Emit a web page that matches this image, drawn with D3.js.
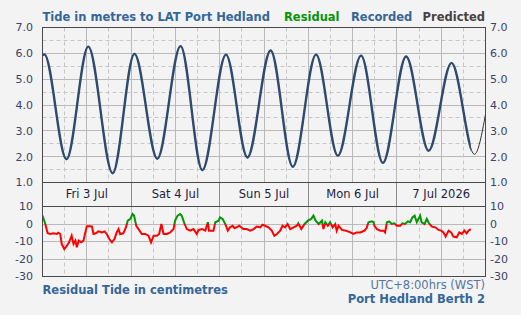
<!DOCTYPE html>
<html>
<head>
<meta charset="utf-8">
<script src="https://cdn.jsdelivr.net/npm/d3@7"></script>
<style>
html,body{margin:0;padding:0;background:#f3f3f3;}
svg{display:block;}
text{font-family:"DejaVu Sans",Verdana,sans-serif;}
</style>
</head>
<body>
<svg id="c" width="521" height="315"></svg>
<script>
// ---- data ----
// tide turning points (hours from Fri 3 Jul 2026 00:00, metres to LAT)
const tideHours   = [0, 0.5, 6.5, 12.4, 19.0, 24.9, 31.1, 37.4, 43.3, 49.7, 55.5, 61.8, 67.8, 74.1, 80.0, 86.3, 92.2, 98.5, 104.6, 110.8, 117.0, 120];
const tideHeights = [5.92, 5.96, 1.90, 6.26, 1.36, 5.98, 1.92, 6.28, 1.48, 5.95, 1.97, 6.11, 1.61, 5.95, 2.04, 5.91, 1.76, 5.88, 2.23, 5.63, 2.09, 3.64];
const recordedEndHour = 116;

// residual tide (cm)
const resHours = [0,0.7,1.4,2.1,3.0,3.9,4.3,4.8,5.2,5.9,6.6,7.2,7.9,8.4,8.9,9.3,9.8,10.5,11.1,11.6,12.0,12.9,13.4,13.8,14.4,15.2,16.1,16.8,17.4,18.1,18.8,19.5,20.1,20.6,21.0,21.9,22.6,23.1,23.8,24.4,24.8,25.1,25.4,26.0,26.9,27.8,28.7,29.4,30.1,31.0,31.6,32.2,32.8,33.7,34.6,35.5,35.9,36.6,37.3,37.7,38.5,39.1,40.0,40.9,41.8,42.3,43.2,44.1,44.8,45.1,46.3,46.8,47.7,48.1,48.8,49.5,50.2,50.8,51.5,52.0,52.6,53.3,53.8,54.4,55.3,56.3,57.2,58.0,59.0,59.6,60.3,61.2,62.1,62.8,63.5,64.4,65.0,65.7,66.4,67.1,68.0,68.9,69.3,70.1,71.0,71.9,72.8,73.4,74.0,74.8,75.3,75.7,76.1,76.6,77.3,77.9,78.6,79.3,79.7,80.2,81.1,82.2,83.4,84.2,85.1,86.1,87.2,87.8,88.3,89.2,89.7,89.9,90.6,91.5,92.4,92.8,93.3,93.9,94.6,95.3,96.0,96.9,97.5,98.2,99.0,99.6,100.2,100.8,101.4,102.3,102.7,103.5,104.1,104.7,105.5,106.4,107.3,108.0,108.6,109.2,110.0,110.7,111.3,112.2,112.9,113.6,114.3,114.9,115.4,116.0];
const resValues = [4.8,0.4,-5.3,-5.7,-5.3,-5.7,-5.0,-5.7,-11.4,-14.3,-12.4,-10.5,-6.7,-11.4,-9.5,-13.3,-9.5,-10.5,-9.5,-4.8,-1.3,-1.3,-1.5,-5.7,-5.3,-4.2,-4.8,-4.2,-5.7,-8.6,-10.5,-8.6,-4.8,-2.9,-5.7,-5.3,-1.9,1.9,2.9,5.7,4.8,1.9,-1,-2.9,-5.7,-5.7,-6.7,-10.5,-6.7,-6.7,-5.7,0,-5.7,-5.7,-4.8,-2.9,1.9,4.8,5.7,4.8,0,-2.9,-3.8,-2.9,-5.7,-3.4,-2.9,-3.8,1,-3.8,-3.8,1,1.9,3.8,2.9,0,-3.8,-1.9,-1,-2.3,-1.9,-1,-1.9,-2.9,-2.9,-3.8,-2.9,-1.5,-1.9,-0.4,-1,-1.9,-3.8,-6.7,-5.7,-3.8,-1,-1.9,0,-2.9,-1.9,-1,0.4,-2.9,0,1.9,2.9,4.8,1.9,0,1,1.9,-2.9,1,-1,1,-1.9,0,-3.8,-1,-3.4,-3.8,-4.8,-5.7,-4.8,-4.8,-3.8,-2.3,1,1.5,1,-1,-2.9,-3.8,-3.8,-4.8,1,1.5,0,0.4,-1,-1,0.4,0,1.5,1,3.8,4.8,1,4.8,1,0,2.9,0.4,-1.5,-1.9,-3.4,-3.8,-4.8,-7.2,-3.8,-4.8,-7.2,-7.6,-4.8,-5.7,-3.8,-5.3,-3.8,-2.9];

const tideTicks = [1, 2, 3, 4, 5, 6, 7];
const tideHalfTicks = [1.5, 2.5, 3.5, 4.5, 5.5, 6.5];
const resTicks = [10, 0, -10, -20, -30];
const resGrid = [0, -10, -20];
const dayLabels = ["Fri 3 Jul", "Sat 4 Jul", "Sun 5 Jul", "Mon 6 Jul", "7 Jul 2026"];
const dayNoonHours = [12, 36, 60, 84, 108];
const midnightHours = [24, 48, 72, 96];
const solidGridHours = [12, 24, 36, 48, 60, 72, 84, 96, 108];
const dashGridHours = [6, 18, 30, 42, 54, 66, 78, 90, 102, 114];

// ---- layout ----
const L = 42.5, R = 485.5;
const x = d3.scaleLinear().domain([0, 120]).range([L, R]);
const yT = d3.scaleLinear().domain([1, 7]).range([182.5, 27.5]);
const yR = d3.scaleLinear().domain([-30, 10]).range([276.5, 206.5]);
const crisp = v => Math.round(v - 0.5) + 0.5;

const svg = d3.select("#c");
const defs = svg.append("defs");

const C = {
  grid: "#b9b9b9", gridDash: "#c6c6c6", frame: "#4a4a4a",
  tick: "#3b4268", date: "#1d1d3f", blue: "#336699",
  green: "#069306", red: "#ff0000", rec: "#2e4a6f", pred: "#333333"
};

// ---- top plot grid ----
const gTop = svg.append("g");
gTop.selectAll(".hd").data(tideHalfTicks).join("line")
  .attr("x1", L).attr("x2", R).attr("y1", d => crisp(yT(d))).attr("y2", d => crisp(yT(d)))
  .attr("stroke", C.gridDash).attr("stroke-dasharray", "4,3");
gTop.selectAll(".hs").data(tideTicks.slice(1, -1)).join("line")
  .attr("x1", L).attr("x2", R).attr("y1", d => crisp(yT(d))).attr("y2", d => crisp(yT(d)))
  .attr("stroke", C.grid);
gTop.selectAll(".vd").data(dashGridHours).join("line")
  .attr("x1", d => crisp(x(d))).attr("x2", d => crisp(x(d))).attr("y1", yT(7)).attr("y2", yT(1))
  .attr("stroke", C.gridDash).attr("stroke-dasharray", "4,3");
gTop.selectAll(".vs").data(solidGridHours).join("line")
  .attr("x1", d => crisp(x(d))).attr("x2", d => crisp(x(d))).attr("y1", yT(7)).attr("y2", yT(1))
  .attr("stroke", C.grid);

// ---- residual grid ----
const gRes = svg.append("g");
gRes.selectAll(".hs").data(resGrid).join("line")
  .attr("x1", L).attr("x2", R).attr("y1", d => crisp(yR(d))).attr("y2", d => crisp(yR(d)))
  .attr("stroke", C.grid);
gRes.selectAll(".vd").data(dashGridHours).join("line")
  .attr("x1", d => crisp(x(d))).attr("x2", d => crisp(x(d))).attr("y1", yR(10)).attr("y2", yR(-30))
  .attr("stroke", C.gridDash).attr("stroke-dasharray", "4,3");
gRes.selectAll(".vs").data(solidGridHours).join("line")
  .attr("x1", d => crisp(x(d))).attr("x2", d => crisp(x(d))).attr("y1", yR(10)).attr("y2", yR(-30))
  .attr("stroke", C.grid);

// ---- tide curves ----
const tideData = tideHours.map((h, i) => [h, tideHeights[i]]);
const tideLine = d3.line().x(d => x(d[0])).y(d => yT(d[1])).curve(d3.curveMonotoneX);

defs.append("clipPath").attr("id", "topClip").append("rect")
  .attr("x", L).attr("y", yT(7)).attr("width", R - L).attr("height", yT(1) - yT(7));
defs.append("clipPath").attr("id", "recClip").append("rect")
  .attr("x", L).attr("y", yT(7)).attr("width", x(recordedEndHour) - L).attr("height", yT(1) - yT(7));

svg.append("path").datum(tideData).attr("d", tideLine)
  .attr("fill", "none").attr("stroke", C.pred).attr("stroke-width", 1)
  .attr("clip-path", "url(#topClip)");
svg.append("path").datum(tideData).attr("d", tideLine)
  .attr("fill", "none").attr("stroke", C.rec).attr("stroke-width", 2.4)
  .attr("stroke-linejoin", "round")
  .attr("clip-path", "url(#recClip)");

// ---- residual curve ----
const resData = resHours.map((h, i) => [h, resValues[i]]);
const resLine = d3.line().x(d => x(d[0])).y(d => yR(d[1]));
defs.append("clipPath").attr("id", "posClip").append("rect")
  .attr("x", L).attr("y", yR(10)).attr("width", R - L).attr("height", yR(0) - yR(10));
defs.append("clipPath").attr("id", "negClip").append("rect")
  .attr("x", L).attr("y", yR(0)).attr("width", R - L).attr("height", yR(-30) - yR(0));
svg.append("path").datum(resData).attr("d", resLine)
  .attr("fill", "none").attr("stroke", C.green).attr("stroke-width", 2)
  .attr("clip-path", "url(#posClip)");
svg.append("path").datum(resData).attr("d", resLine)
  .attr("fill", "none").attr("stroke", C.red).attr("stroke-width", 2)
  .attr("clip-path", "url(#negClip)");

// ---- date band ----
svg.selectAll(".mid").data(midnightHours).join("line")
  .attr("x1", d => crisp(x(d))).attr("x2", d => crisp(x(d)))
  .attr("y1", yT(1)).attr("y2", yR(10))
  .attr("stroke", "#8a8a8a");
svg.selectAll(".dl").data(dayLabels).join("text")
  .attr("x", (d, i) => x(dayNoonHours[i])).attr("y", 198)
  .attr("text-anchor", "middle").attr("font-size", "11.5px").attr("fill", C.date)
  .text(d => d);

// ---- frame ----
svg.append("rect").attr("x", L).attr("y", yT(7)).attr("width", R - L).attr("height", yR(-30) - yT(7))
  .attr("fill", "none").attr("stroke", C.frame);
svg.append("line").attr("x1", L).attr("x2", R).attr("y1", yT(1)).attr("y2", yT(1)).attr("stroke", C.frame);
svg.append("line").attr("x1", L).attr("x2", R).attr("y1", yR(10)).attr("y2", yR(10)).attr("stroke", C.frame);

// ---- tick labels ----
const fmt1 = d3.format(".1f");
[["end", 33], ["start", 490]].forEach(([anchor, xx]) => {
  svg.append("g").selectAll("text").data(tideTicks).join("text")
    .attr("x", xx).attr("y", d => yT(d)).attr("dy", "0.36em")
    .attr("text-anchor", anchor).attr("font-size", "11px").attr("fill", C.tick)
    .text(d => fmt1(d));
  svg.append("g").selectAll("text").data(resTicks).join("text")
    .attr("x", xx).attr("y", d => yR(d)).attr("dy", "0.36em")
    .attr("text-anchor", anchor).attr("font-size", "11px").attr("fill", C.tick)
    .text(d => d);
});

// ---- titles ----
const t = svg.append("text").attr("x", 42.5).attr("y", 20.5)
  .attr("font-size", "11.5px").attr("font-weight", "bold");
t.append("tspan").attr("fill", C.blue).text("Tide in metres to LAT Port Hedland");
svg.append("text").attr("x", 284).attr("y", 20.5).attr("font-size", "11.5px").attr("font-weight", "bold")
  .attr("fill", C.green).text("Residual");
svg.append("text").attr("x", 351).attr("y", 20.5).attr("font-size", "11.5px").attr("font-weight", "bold")
  .attr("fill", C.blue).text("Recorded");
svg.append("text").attr("x", 485).attr("y", 20.5).attr("text-anchor", "end").attr("font-size", "11.5px").attr("font-weight", "bold")
  .attr("fill", "#4a4242").text("Predicted");

svg.append("text").attr("x", 42.5).attr("y", 294).attr("font-size", "11.5px").attr("font-weight", "bold")
  .attr("fill", C.blue).text("Residual Tide in centimetres");
svg.append("text").attr("x", 485).attr("y", 288.5).attr("text-anchor", "end").attr("font-size", "11.5px")
  .attr("fill", "#5577a0").text("UTC+8:00hrs (WST)");
svg.append("text").attr("x", 485).attr("y", 303).attr("text-anchor", "end").attr("font-size", "11.5px").attr("font-weight", "bold")
  .attr("fill", C.blue).text("Port Hedland Berth 2");
</script>
</body>
</html>
